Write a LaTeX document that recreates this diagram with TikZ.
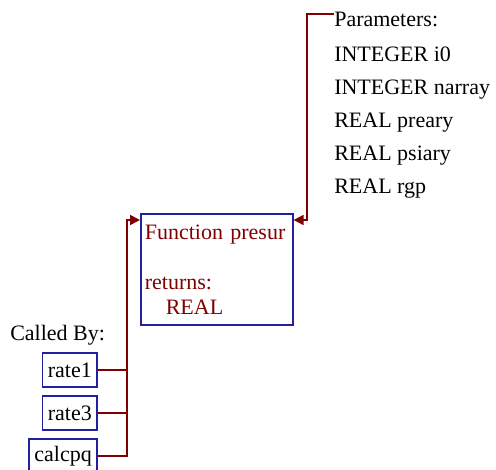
\documentclass[tikz,border=0pt]{standalone}
\usepackage{fontspec}
\setmainfont{Liberation Serif}
\usetikzlibrary{arrows.meta,calc,positioning}
\definecolor{darkred}{RGB}{128,0,0}
\definecolor{darkblue}{RGB}{32,32,160}

\begin{document}
\begin{tikzpicture}[x=0.75pt, y=-0.75pt,
    every node/.style={font=\fontsize{16.5}{24.75}\selectfont},
    funcbox/.style={draw=darkblue, line width=1.2pt, text=darkred, align=left,
      font=\fontsize{16.5}{18.75}\selectfont, minimum height=83.25pt,
      text width=108pt, inner xsep=3pt, inner ysep=0pt},
    callerbox/.style={draw=darkblue, line width=1.2pt, minimum height=25.5pt,
      inner xsep=4pt, inner ysep=0pt},
    link/.style={draw=darkred, line width=1.2pt},
    linkarrow/.style={link, -{Triangle[length=7.5pt, width=7.5pt]}}]
  % Fix the page to the size of the picture
  \useasboundingbox (0,0) rectangle (496,469);
  % Draw the function box
  \node[funcbox, anchor=north west] (func) at (140,213)
    {Function presur\\[18.75pt]returns:\\\hspace*{15.75pt}REAL};
  % Draw the list of parameters
  \node[anchor=north west, align=left, inner sep=0pt] (params) at (334,12)
    {Parameters:\\[1.5pt]INTEGER i0\\INTEGER narray\\REAL preary\\REAL psiary\\REAL rgp};
  % Draw the callers
  \node[anchor=base west, inner sep=0pt] (calledby) at (10,340) {Called By:};
  \node[callerbox, anchor=east] (rate1) at (98,370) {rate1};
  \node[callerbox, below=5.55pt of rate1.south east, anchor=north east] (rate3) {rate3};
  \node[callerbox, below=5.55pt of rate3.south east, anchor=north east] (calcpq) {calcpq};
  % Draw connecting arrows
  \coordinate (bus) at (127,220);
  \coordinate (pbus) at (307,14);
  \draw[link] (rate1.east) -- (rate1.east -| bus);
  \draw[link] (rate3.east) -- (rate3.east -| bus);
  \draw[linkarrow] (calcpq.east) -| (bus) -- (bus -| func.west);
  \draw[linkarrow] (params.west |- pbus) -- (pbus) |- (bus -| func.east);
\end{tikzpicture}
\end{document}
